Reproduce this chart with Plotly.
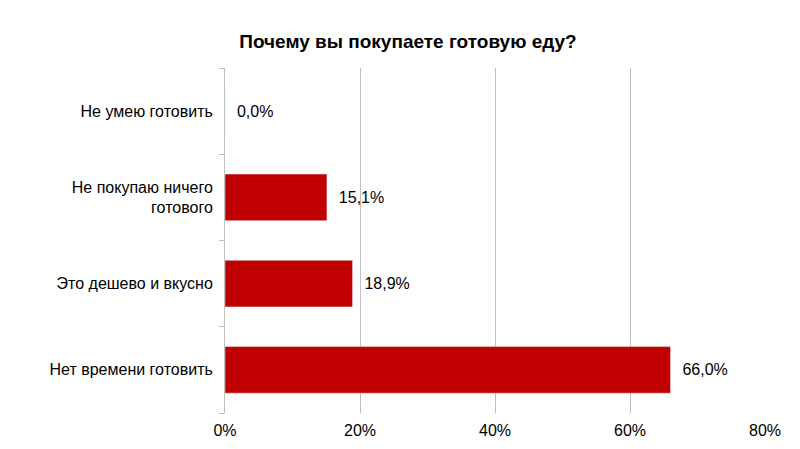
import plotly.graph_objects as go

categories = ["Нет времени готовить", "Это дешево и вкусно",
              "Не покупаю ничего<br>готового", "Не умею готовить"]
values = [66.0, 18.9, 15.1, 0.0]
labels = ["  " + f"{v:.1f}".replace(".", ",") + "%" for v in values]
tick_vals = [0, 20, 40, 60, 80]
tick_text = [f"{v}%" for v in tick_vals]

fig = go.Figure(go.Bar(
    y=categories, x=values, orientation="h",
    marker_color="#C00000", width=0.54,
    text=labels, textposition="outside", cliponaxis=False,
    textfont=dict(size=16, color="black"),
))

fig.update_layout(
    width=800, height=449,
    paper_bgcolor="white", plot_bgcolor="white",
    font=dict(family="Liberation Sans, Arial", size=16, color="black"),
    title=dict(text="<b>Почему вы покупаете готовую еду?</b>", x=0.5, y=0.94,
               xanchor="center", font=dict(size=19)),
    margin=dict(l=217, r=43, t=60, b=44),
    showlegend=False,
    xaxis=dict(range=[0, 80], tickvals=tick_vals, ticktext=tick_text,
               showgrid=True, gridcolor="#BFBFBF", gridwidth=1,
               zeroline=False, showline=False, automargin=False,
               ticklabelstandoff=6),
    yaxis=dict(type="category", showline=True, linecolor="#BFBFBF",
               ticks="outside", tickson="boundaries", ticklen=5,
               tickcolor="#BFBFBF", ticklabelstandoff=8, showgrid=False,
               automargin=False),
)

fig.write_html("out.html")
